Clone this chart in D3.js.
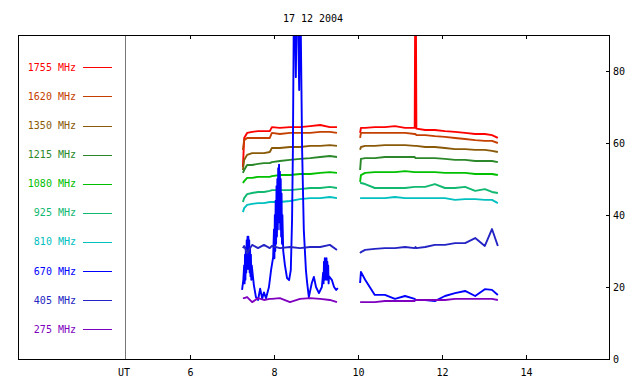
<!DOCTYPE html>
<html><head><meta charset="utf-8">
<script src="https://cdn.jsdelivr.net/npm/d3@7"></script>
<style>
body{margin:0;background:#fff}
svg{display:block}
text{font-family:"DejaVu Sans Mono",monospace;font-size:10px}
</style>
</head><body><svg id="c" width="640" height="384"></svg>
<script>
// ---- data ----
const title = "17 12 2004";
const freqLabels = ["1755 MHz","1620 MHz","1350 MHz","1215 MHz","1080 MHz","925 MHz","810 MHz","670 MHz","405 MHz","275 MHz"];
const colors = ["#ff0000","#c44000","#8a5a08","#2a882a","#00c000","#10b870","#00c0c0","#0000ff","#2424c4","#8000c0"];
const xTicks = [6,8,10,12,14];
const yTicks = [0,20,40,60,80];

// first observing block (UT hours)
const t1 = [7.26,7.29,7.36,7.48,7.62,7.76,7.90,7.95,8.14,8.38,8.62,8.86,9.10,9.33,9.50];
const f1755a = [53.3,61.4,62.8,63.1,63.3,63.3,63.3,64.4,64.2,64.4,64.4,64.7,65.0,64.4,64.4];
const f1620a = [58.1,60.8,61.4,61.4,61.4,61.4,61.4,62.8,62.5,62.8,62.8,62.8,63.1,63.1,62.8];
const f1350a = [52.5,55.3,56.7,57.2,57.2,57.2,57.5,58.6,58.6,58.9,58.9,59.2,59.2,59.4,59.2];
const f1215a = [51.7,52.5,53.9,53.9,54.2,54.4,54.4,54.7,55.0,55.3,55.6,55.8,56.1,56.4,56.1];
const f1080a = [48.9,49.4,50.3,50.3,50.6,50.6,50.6,50.8,51.1,51.1,51.4,51.4,51.7,51.9,51.7];
const f925a  = [43.6,44.7,45.8,46.1,46.4,46.4,46.7,46.9,46.9,46.9,47.2,47.5,47.5,47.8,47.5];
const f810a  = [40.8,41.9,42.8,43.1,43.3,43.3,43.6,43.6,43.6,43.9,44.4,44.7,44.7,45.0,44.7];
const f405a  = [30.8,31.4,29.4,31.7,30.8,31.7,30.8,31.4,30.8,31.1,30.8,31.1,31.1,31.7,30.3];
const f275a  = [16.9,16.9,17.2,15.8,16.9,16.4,16.7,16.7,16.9,15.8,16.7,16.9,16.7,16.4,15.8];
// 670 MHz first block (burst)
const t670a = [7.24,7.27,7.29,7.30,7.31,7.32,7.33,7.34,7.35,7.36,7.37,7.38,7.39,7.40,7.41,7.42,7.43,7.44,7.45,7.46,7.47,
  7.52,7.57,7.62,7.67,7.72,7.76,7.81,7.88,7.93,7.98,
  8.00,8.01,8.02,8.03,8.04,8.05,8.06,8.07,8.08,8.09,8.10,8.11,8.12,8.13,8.14,8.15,8.16,8.17,8.18,8.19,8.20,
  8.22,8.26,8.31,8.36,8.40,8.43,8.45,8.48,8.52,8.55,8.60,8.62,8.67,8.71,8.76,8.79,8.83,8.90,8.95,9.00,9.07,9.14,
  9.17,9.18,9.19,9.20,9.21,9.22,9.23,9.24,9.25,9.26,9.27,9.28,9.29,9.30,9.31,
  9.38,9.43,9.48,9.52];
const f670a = [19.2,22,26,21,29,22,31,24,33,25,34,26,34,25,33,24,31,23,29,22,26,
  20.6,17.2,16.4,19.5,16.8,18.5,16.9,20.0,24.7,28.3,
  36,28,40,30,44,32,48,34,50,36,53,38,54,40,52,36,50,34,46,32,40,
  30,26.1,22.5,21.9,24.7,38.6,58.1,110,78.3,110,74.7,110,58,35.8,24.7,21.1,17.2,21.1,22.8,20.0,18.3,20.0,
  24,21,27,22,28,23,27,22,28,23,27,22,26,21,23,
  21.9,20.0,19.2,19.7];

// second observing block
const t2 = [10.05,10.07,10.17,10.40,10.64,10.88,11.12,11.35,11.37,11.39,11.60,11.83,12.07,12.31,12.55,12.79,13.02,13.19,13.33];
const f1755b = [62.8,64.2,64.2,64.4,64.4,64.7,64.2,64.2,120,64.0,63.6,63.6,63.3,63.1,62.8,62.5,62.5,62.2,61.4];
const f1620b = [61.4,62.8,62.8,62.8,62.8,62.8,62.8,62.5,62.5,62.2,62.2,61.9,61.7,61.4,61.1,60.8,60.6,60.6,60.0];
const f1350b = [58.1,58.9,59.2,59.2,59.4,59.4,59.4,59.2,59.2,59.2,58.9,58.9,58.6,58.3,58.3,58.1,58.1,57.8,57.5];
const f1215b = [52.5,55.6,55.8,55.8,56.1,56.1,56.1,56.1,55.8,55.8,55.8,55.8,55.6,55.3,55.3,55.0,55.0,55.0,54.7];
const f1080b = [49.2,51.1,51.7,51.9,51.9,51.9,52.2,51.9,51.9,51.9,51.9,51.9,51.7,51.7,51.7,51.4,51.4,51.4,51.1];
const f925b  = [48.9,48.9,48.6,47.5,47.5,47.5,47.5,47.8,47.8,47.8,47.8,48.6,47.5,47.5,47.8,46.7,47.2,46.4,46.1];
const f810b  = [44.7,44.7,44.7,44.7,44.7,45.0,44.7,44.7,44.7,44.7,44.7,44.7,44.7,44.2,44.4,44.4,44.2,44.2,43.3];
const f670b  = [21.1,24.2,22.0,17.8,17.8,16.7,17.5,16.7,16.4,16.4,16.4,16.1,17.5,18.3,18.9,17.5,19.4,19.2,17.8];
const f405b  = [29.4,29.7,30.3,30.6,30.8,30.8,31.1,30.8,31.1,30.8,31.1,31.7,31.7,32.2,32.2,33.6,31.4,36.1,31.4];
const f275b  = [15.8,15.8,15.8,15.8,16.1,16.1,16.1,16.1,16.4,16.4,16.4,16.4,16.4,16.7,16.7,16.7,16.7,16.7,16.4];

// ---- drawing ----
const blockA = [[t1,f1755a],[t1,f1620a],[t1,f1350a],[t1,f1215a],[t1,f1080a],[t1,f925a],[t1,f810a],[t670a,f670a],[t1,f405a],[t1,f275a]];
const blockB = [[t2,f1755b],[t2,f1620b],[t2,f1350b],[t2,f1215b],[t2,f1080b],[t2,f925b],[t2,f810b],[t2,f670b],[t2,f405b],[t2,f275b]];

const svg = d3.select("#c");
const W = 640, H = 384;
const L = 18, R = 610, T = 35, B = 359;
const x = d3.scaleLinear().domain([1.905, 16]).range([L, R]);
const y = d3.scaleLinear().domain([0, 90]).range([B, T]);

svg.append("rect").attr("width", W).attr("height", H).attr("fill", "#fff");
svg.append("defs").append("clipPath").attr("id", "clip")
  .append("rect").attr("x", L).attr("y", T).attr("width", R - L).attr("height", B - T);

svg.append("text").attr("x", 313).attr("y", 22).attr("text-anchor", "middle").attr("fill", "#000").text(title);

// data lines
const line = d3.line().x(d => x(d[0])).y(d => y(d[1]));
const g = svg.append("g").attr("clip-path", "url(#clip)");
[blockA, blockB].forEach(block => {
  block.forEach((s, i) => {
    const pts = s[0].map((t, k) => [t, s[1][k]]);
    g.append("path").attr("d", line(pts)).attr("fill", "none")
      .attr("stroke", colors[i]).attr("stroke-width", 1.9).attr("stroke-linejoin", "round");
  });
});

// separator line
svg.append("line").attr("x1", 125.5).attr("x2", 125.5).attr("y1", T).attr("y2", B)
  .attr("stroke", "#777").attr("stroke-width", 1);

// axes
const axB = svg.append("g").attr("transform", `translate(0,${B})`)
  .call(d3.axisBottom(x).tickValues(xTicks).tickSizeInner(-4).tickSizeOuter(0).tickPadding(9.5));
const axT = svg.append("g").attr("transform", `translate(0,${T})`)
  .call(d3.axisTop(x).tickValues(xTicks).tickSizeInner(-4).tickSizeOuter(0).tickFormat(""));
const axR = svg.append("g").attr("transform", `translate(${R},0)`)
  .call(d3.axisRight(y).tickValues(yTicks).tickSizeInner(-4).tickSizeOuter(0).tickPadding(3));
[axB, axT, axR].forEach(a => {
  a.select(".domain").remove();
  a.selectAll("text").attr("font-family", "DejaVu Sans Mono, monospace").attr("font-size", 10).attr("fill", "#000");
  a.selectAll("line").attr("stroke", "#000");
});

svg.append("text").attr("x", 124).attr("y", 376).attr("text-anchor", "middle").attr("fill", "#000").text("UT");

// frame
svg.append("rect").attr("x", L + 0.5).attr("y", T + 0.5).attr("width", R - L - 1).attr("height", B - T)
  .attr("fill", "none").attr("stroke", "#000").attr("stroke-width", 1);

// legend
freqLabels.forEach((lab, i) => {
  const yy = 67.3 + 29.1 * i;
  svg.append("text").attr("x", 76).attr("y", yy).attr("dy", "0.35em")
    .attr("text-anchor", "end").attr("fill", colors[i]).text(lab);
  svg.append("line").attr("x1", 83).attr("x2", 112).attr("y1", Math.round(yy) + 0.5).attr("y2", Math.round(yy) + 0.5)
    .attr("stroke", colors[i]).attr("stroke-width", 1);
});
</script>
</body></html>
